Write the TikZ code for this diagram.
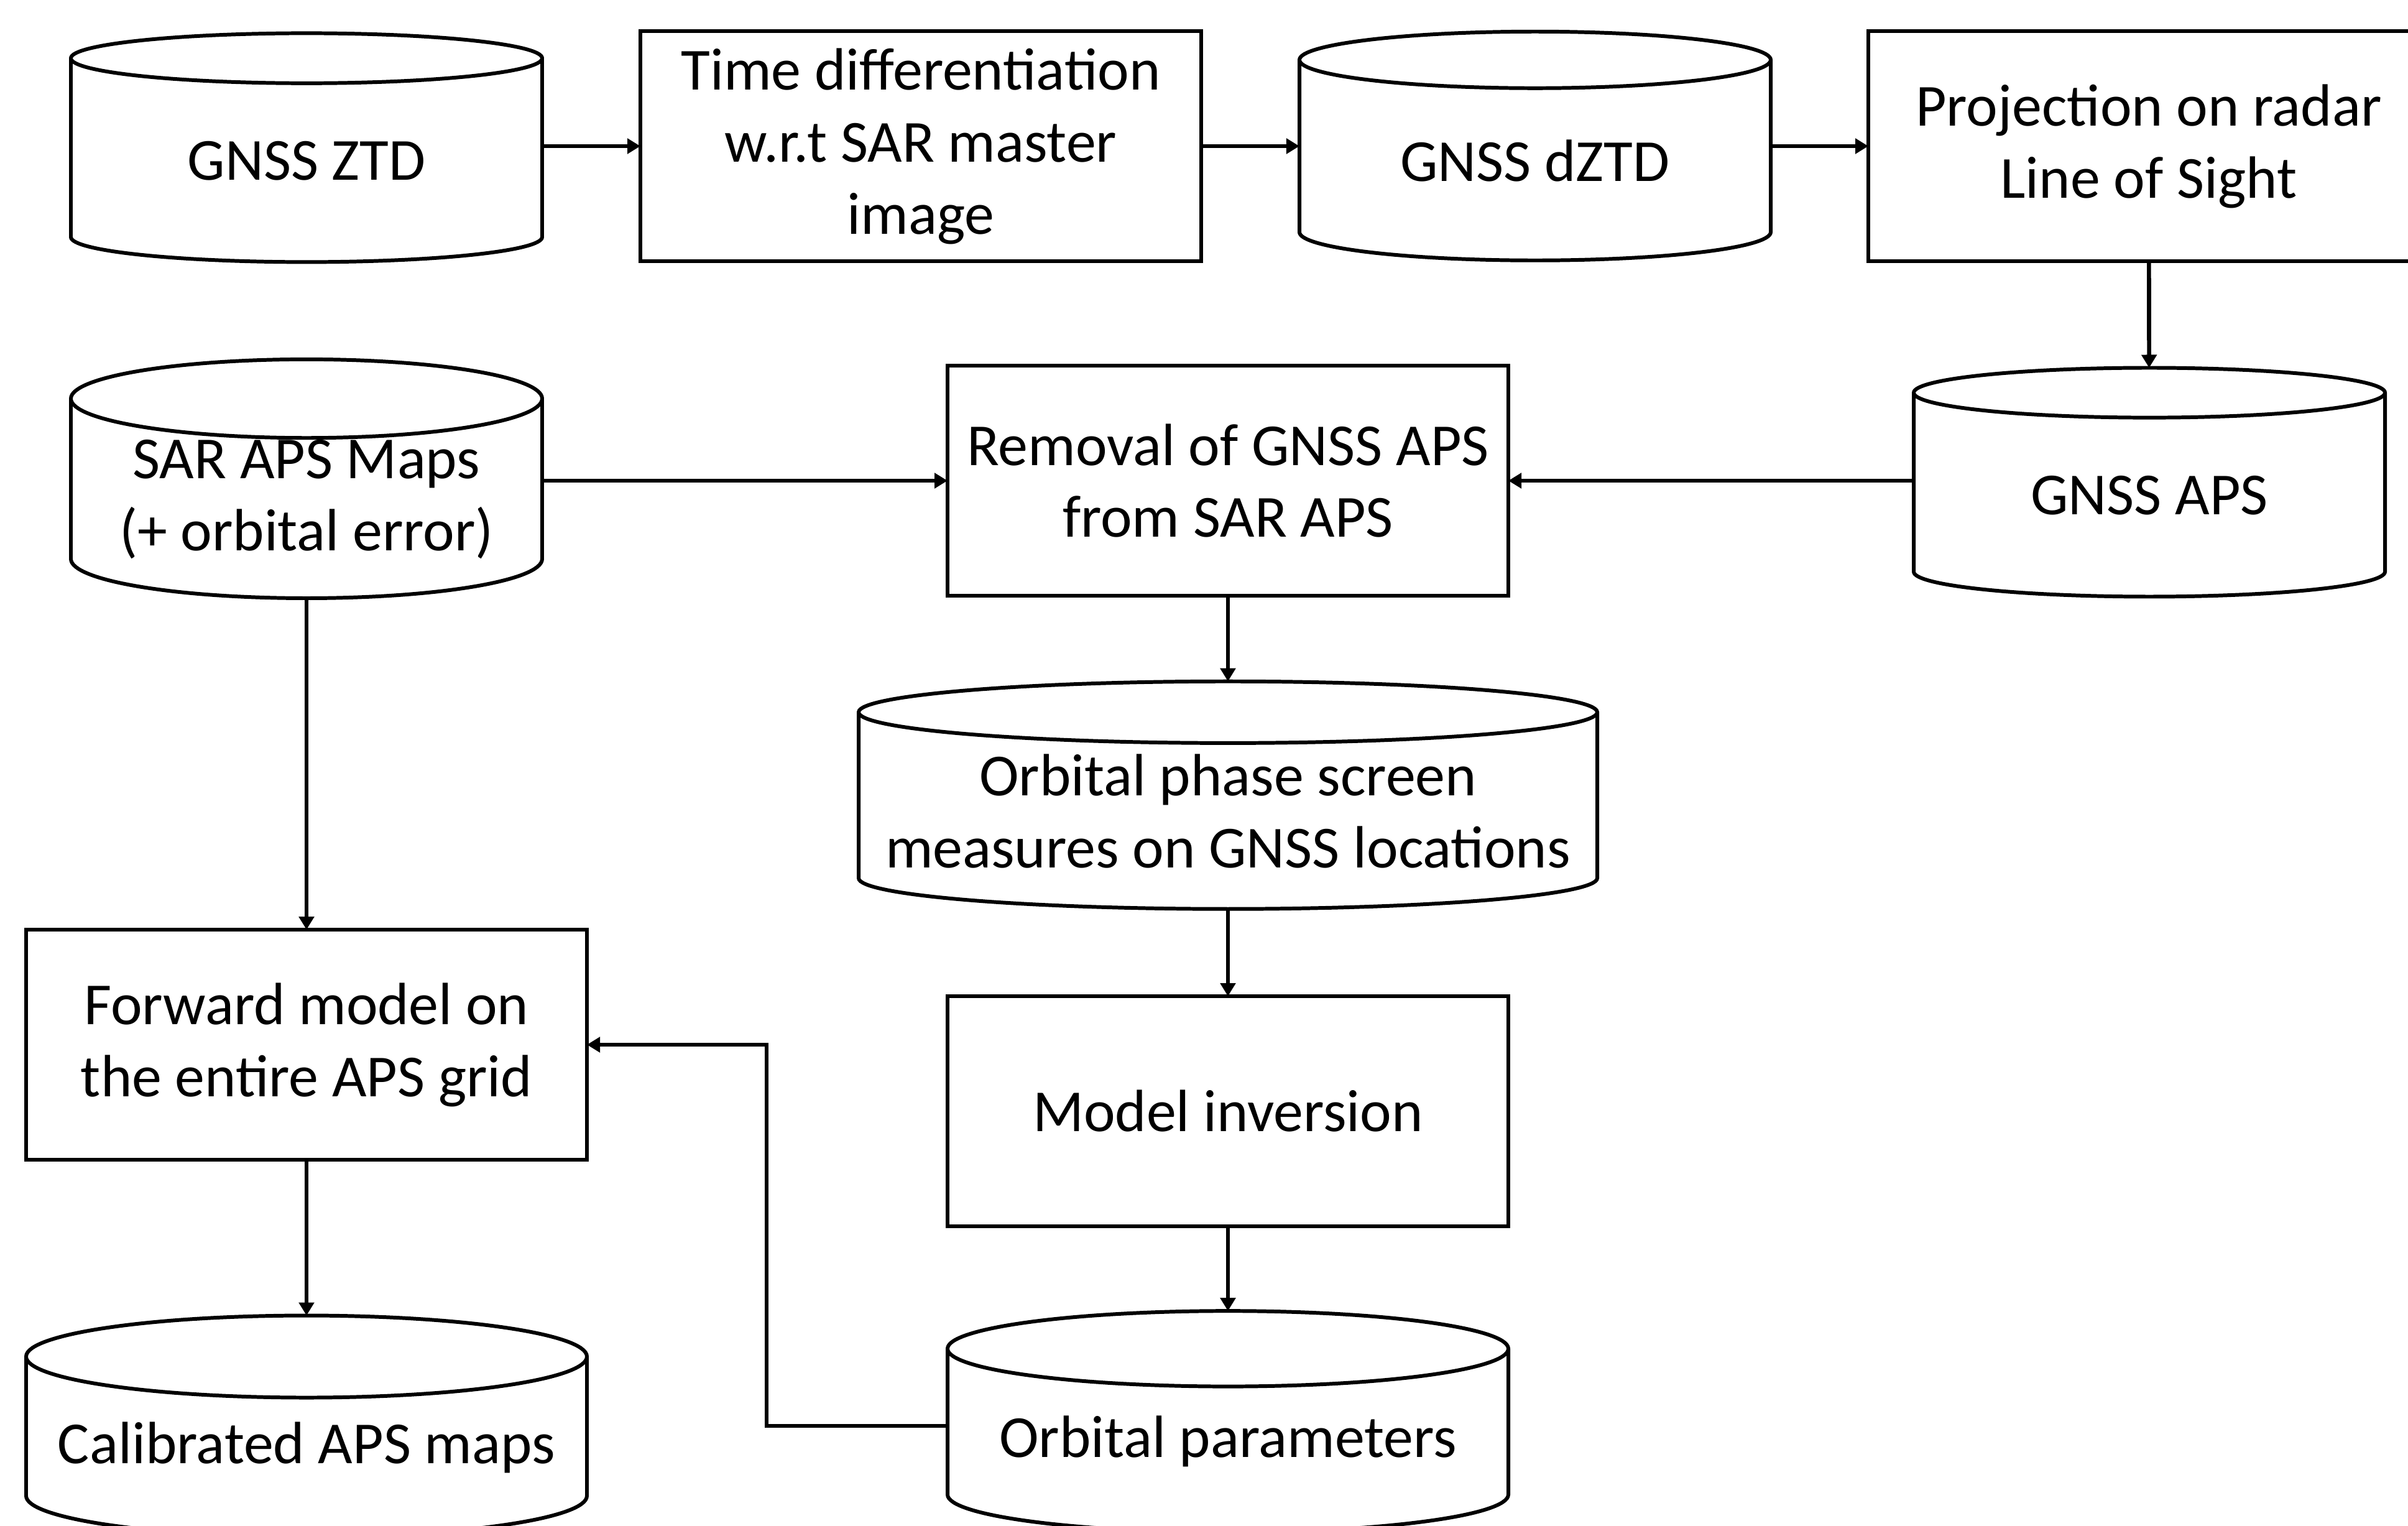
\documentclass[tikz,border=0pt]{standalone}
\usepackage{fontspec}
\setmainfont{Carlito}
\usetikzlibrary{arrows.meta,shapes.geometric}

\begin{document}
\begin{tikzpicture}[->,>={Triangle[length=0.21cm,width=0.24cm]},line width=1.9pt,
    font=\fontsize{27.3}{33}\selectfont,
    proc/.style={shape=rectangle,draw=black,line width=1.7pt,minimum width=9.02cm,minimum height=3.7cm,align=center,inner sep=0pt,outer sep=0pt},
    store/.style={shape=cylinder,draw=black,line width=1.7pt,shape border rotate=90,aspect=0.21,minimum width=7.58cm,minimum height=3.68cm,align=center,inner sep=0pt,outer sep=0pt}]
                \useasboundingbox (0,0) rectangle (38.73,-24.53);
                \node[store](ztd)at(4.93, -2.59){GNSS ZTD};
                \node[proc](timediff)at(14.81, -2.35){Time differentiation\\w.r.t SAR master\\image};
                \node[store](dztd)at(24.69, -2.59){GNSS dZTD};
                \node[proc](proj)at(34.56, -2.35){Projection on radar\\Line of Sight};

                \node[store](sarmaps)at(4.93, -8.03){SAR APS Maps\\(+ orbital error)};
                \node[proc](removal)at(19.75, -7.73){Removal of GNSS APS\\from SAR APS};
                \node[store](gnssaps)at(34.57, -7.97){GNSS APS};
                \node[store,minimum width=11.88cm,minimum height=3.66cm,aspect=0.09](orbphase)at(19.75, -13.05){Orbital phase screen\\measures on GNSS locations};

                \node[proc](forward)at(4.93, -16.80){Forward model on\\the entire APS grid};
                \node[proc](inversion)at(19.75, -17.87){Model inversion};
                \node[store,minimum width=9.02cm,minimum height=3.56cm,aspect=0.165](calib)at(4.93, -23.28){Calibrated APS maps};
                \node[store,minimum width=9.02cm,minimum height=3.56cm,aspect=0.165](orbpar)at(19.75, -23.18){Orbital parameters};

                \path[](ztd.east |- timediff.west) edge (timediff.west)
                (timediff) edge (dztd.west |- timediff.east)
                (dztd.east |- proj.west) edge (proj.west)
                (proj) edge (gnssaps)
                (gnssaps.west |- removal.east) edge (removal.east)
                (sarmaps.east |- removal.west) edge (removal.west)
                (removal) edge (orbphase)
                (orbphase) edge (inversion)
                (inversion) edge (orbpar)
                (sarmaps) edge (forward)
                (forward) edge (calib);
                \draw ([yshift=0.25cm]orbpar.west) -- ++(-2.91, 0) |- (forward.east);
            \end{tikzpicture}
\end{document}
